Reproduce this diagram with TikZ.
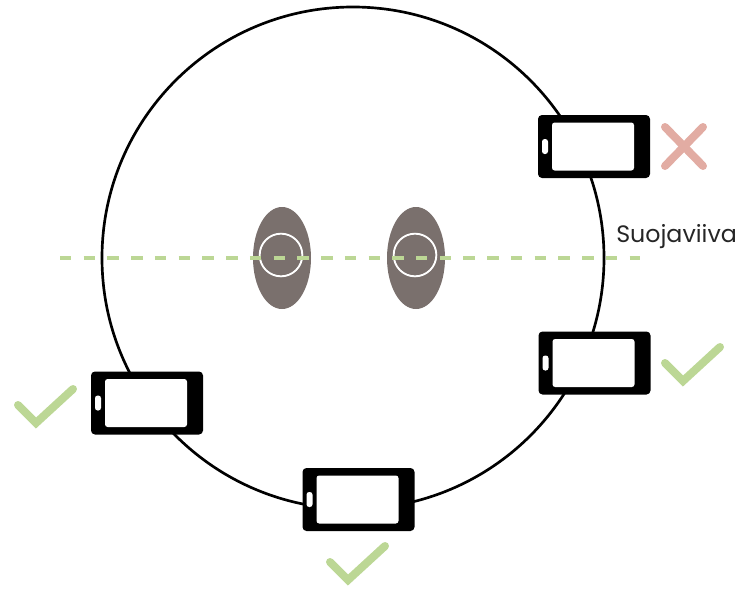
\documentclass[tikz,border=0pt]{standalone}
\usepackage{fontspec}
\setmainfont{Poppins}
\usetikzlibrary{positioning, shapes.geometric}
\definecolor{headgrey}{HTML}{7A706D}
\definecolor{okgreen}{HTML}{BCD795}
\definecolor{badred}{HTML}{E2ACA3}
\tikzset{
phone/.style={fill=black, rounded corners=3pt, minimum width=84pt, minimum height=47.25pt, inner sep=0pt}, % the black body
screen/.style={fill=white, rounded corners=2pt, minimum width=61.5pt, minimum height=36pt, inner sep=0pt},
slot/.style={fill=white, rounded corners=2pt, minimum width=4.5pt, minimum height=11.25pt, inner sep=0pt},
head/.style={ellipse, fill=headgrey, minimum width=43.5pt, minimum height=76.5pt, inner sep=0pt},
ear/.style={circle, draw=white, line width=1.4pt, minimum size=32pt, inner sep=0pt},
tick/.style={draw=okgreen, line width=6pt, line cap=round, line join=miter},
cross/.style={draw=badred, line width=6pt, line cap=round},
}

\begin{document}
\begin{tikzpicture}[x=0.75pt, y=-0.75pt]
  \useasboundingbox (0,0) rectangle (745,589);

  \node[circle, draw, line width=2pt, minimum size=376.5pt, inner sep=0pt] (ring) at (353,258) {};

  \node[head] (h1) at (282,258) {};
  \node[head] (h2) at (416,258) {};
  \node[ear] (e1) at (281,255) {};
  \node[ear] (e2) at (415,255) {};

  % line through the two heads
  \coordinate (l1) at (60,258);
  \coordinate (l2) at (640,258);
  \draw[okgreen, line width=3.5pt, dash pattern=on 8.6pt off 9.2pt] (l1) -- (l2);
  \node[anchor=base west, font=\fontsize{17.8pt}{20pt}\selectfont, text=black!85, inner sep=0pt] (guard) at (616,242) {Suojaviiva};

  \foreach \i/\x/\y in {1/594/146.5, 2/594.5/363, 3/147/403, 4/358.5/499.5} {
    \node[phone] (p\i) at (\x,\y) {};
    \node[screen] (s\i) at (\x-1,\y) {};
    \node[slot] (k\i) at (\x-49,\y) {};
  }

  \foreach \dx/\dy in {0/0, 647/-42, 312/157} {
    \draw[tick, shift={(\dx,\dy)}] (18,405) -- (36,423) -- (73,389);
  }

  \draw[cross] (665,127) -- (703,166);
  \draw[cross] (703,127) -- (665,166);
\end{tikzpicture}
\end{document}
